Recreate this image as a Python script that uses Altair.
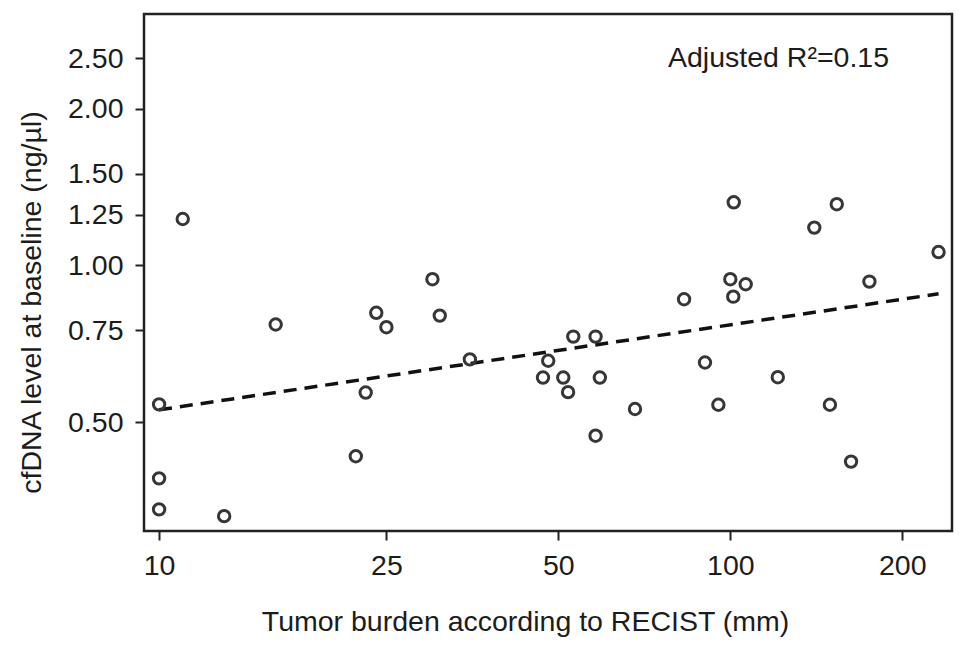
import altair as alt
import pandas as pd

# Tumor burden (mm) and cfDNA (ng/µl)
tumor_mm = [10, 10, 10, 13.0, 22.1, 23.0, 11.0, 16.0, 24.0, 25.0, 30.1, 31.0,
            35.0, 53.1, 58.1, 48.0, 47.0, 51.0, 52.0, 59.1, 68.1, 58.1,
            101.4, 153.6, 140.3, 231.5, 100.0, 106.4, 101.2, 83.0, 175.2,
            90.3, 121.1, 95.3, 149.4, 162.7]
cfdna = [0.541, 0.390, 0.340, 0.330, 0.430, 0.570, 1.228, 0.770, 0.811, 0.761,
         0.941, 0.801, 0.660, 0.730, 0.730, 0.656, 0.609, 0.609, 0.571, 0.609,
         0.530, 0.471, 1.322, 1.311, 1.182, 1.061, 0.941, 0.920, 0.871, 0.861,
         0.931, 0.651, 0.610, 0.540, 0.540, 0.420]

# fitted line (log-log) endpoints
fit_x = [10, 231.5]
fit_y = [0.528, 0.882]

x_ticks = [10, 25, 50, 100, 200]
y_ticks = [0.5, 0.75, 1.0, 1.25, 1.5, 2.0, 2.5]
annotation = ["Adjusted R²=0.15"]

pts = pd.DataFrame({"x": tumor_mm, "y": cfdna})
fit = pd.DataFrame({"x": fit_x, "y": fit_y})
ann = pd.DataFrame({"t": annotation})

FONT = "Liberation Sans"
FS = 28.5
TXT = "#1c1c1c"

xscale = alt.Scale(type="log", domain=[9.41, 244.4], nice=False)
yscale = alt.Scale(type="log", domain=[0.309, 3.04], nice=False)

xaxis = alt.Axis(values=x_ticks, format="d", title="Tumor burden according to RECIST (mm)",
                 grid=False, domain=False, tickSize=9, tickWidth=2, tickColor="#222",
                 labelPadding=11, labelFontSize=FS, labelFont=FONT, labelColor=TXT,
                 titleFont=FONT, titleFontSize=FS, titleFontWeight="normal", titleColor=TXT,
                 titleX=381, titleY=99, titleBaseline="alphabetic", labelFlush=False)
yaxis = alt.Axis(values=y_ticks, format=".2f", title="cfDNA level at baseline (ng/µl)",
                 grid=False, domain=False, tickSize=9, tickWidth=2, tickColor="#222",
                 labelPadding=12, labelFontSize=FS, labelFont=FONT, labelColor=TXT,
                 titleFont=FONT, titleFontSize=FS, titleFontWeight="normal", titleColor=TXT,
                 titleX=-98, titleY=288, titleBaseline="bottom", labelFlush=False)

points = alt.Chart(pts).mark_point(
    shape="circle", filled=False, size=130, strokeWidth=3, color="#363636", opacity=1
).encode(
    x=alt.X("x:Q", scale=xscale, axis=xaxis),
    y=alt.Y("y:Q", scale=yscale, axis=yaxis),
)

line = alt.Chart(fit).mark_line(
    color="#111", strokeWidth=3.5, strokeDash=[13, 8]
).encode(
    x=alt.X("x:Q", scale=xscale),
    y=alt.Y("y:Q", scale=yscale),
)

text = alt.Chart(ann).mark_text(
    align="left", baseline="alphabetic", font=FONT, fontSize=FS, color=TXT
).encode(
    x=alt.value(524), y=alt.value(53), text="t:N"
)

chart = alt.layer(line, points, text).properties(
    width=808, height=517,
    autosize=alt.AutoSizeParams(type="none"),
    padding={"left": 136, "top": 6, "right": 8, "bottom": 110},
).configure(
    background="white",
    view=alt.ViewConfig(stroke="#222", strokeWidth=2.5),
)

chart.save("out.html", embed_options={"renderer": "svg", "actions": False})
